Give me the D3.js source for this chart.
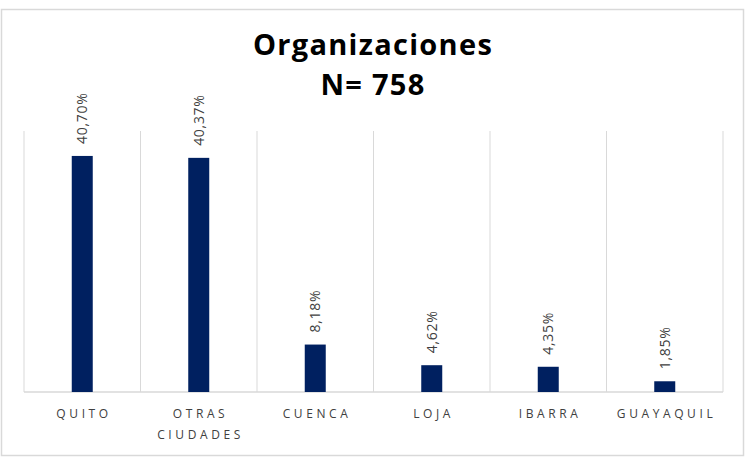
<!DOCTYPE html>
<html><head><meta charset="utf-8">
<script src="https://cdn.jsdelivr.net/npm/d3@7"></script>
<style>body{margin:0;background:#fff;}svg{display:block;font-family:"Open Sans",sans-serif;}</style>
</head><body>
<script>
const categories = [["QUITO"], ["OTRAS", "CIUDADES"], ["CUENCA"], ["LOJA"], ["IBARRA"], ["GUAYAQUIL"]];
const values = [40.70, 40.37, 8.18, 4.62, 4.35, 1.85];
const valueLabels = ["40,70%", "40,37%", "8,18%", "4,62%", "4,35%", "1,85%"];
const titleLines = ["Organizaciones", "N= 758"];

(function () {
const W = 755, H = 465;
const svg = d3.select("body").append("svg").attr("width", W).attr("height", H);
svg.append("rect").attr("x", 1.5).attr("y", 9.5).attr("width", 742).attr("height", 446)
  .attr("fill", "#fff").attr("stroke", "#d9d9d9").attr("stroke-width", 1.5);

const pLeft = 24, pRight = 723, pTop = 131, pBottom = 392;
const x = d3.scaleBand().domain(d3.range(values.length)).range([pLeft, pRight]).padding(0);
const y = d3.scaleLinear().domain([0, 45]).range([pBottom, pTop]);

const seps = d3.range(values.length + 1).map(i => pLeft + i * x.bandwidth());
svg.selectAll("line.sep").data(seps).enter().append("line")
  .attr("x1", d => d).attr("x2", d => d).attr("y1", pTop).attr("y2", pBottom)
  .attr("stroke", "#d9d9d9").attr("stroke-width", 1);
svg.append("line").attr("x1", pLeft).attr("x2", pRight).attr("y1", pBottom).attr("y2", pBottom)
  .attr("stroke", "#d9d9d9").attr("stroke-width", 1.5);

const bw = 21;
svg.selectAll("rect.bar").data(values).enter().append("rect")
  .attr("x", (d, i) => x(i) + x.bandwidth() / 2 - bw / 2)
  .attr("width", bw)
  .attr("y", d => y(d))
  .attr("height", d => pBottom - y(d))
  .attr("fill", "#002060");

svg.selectAll("text.val").data(values).enter().append("text")
  .attr("transform", (d, i) => `translate(${x(i) + x.bandwidth() / 2 + 5},${y(d) - 12}) rotate(-90)`)
  .attr("text-anchor", "start")
  .attr("font-size", 14).attr("letter-spacing", 0.7).attr("fill", "#404040")
  .text((d, i) => valueLabels[i]);

const cat = svg.selectAll("text.cat").data(categories).enter().append("text")
  .attr("text-anchor", "middle").attr("font-size", 12).attr("fill", "#404040")
  .attr("letter-spacing", 3.6);
cat.each(function(d, i) {
  const t = d3.select(this);
  d.forEach((line, j) => {
    t.append("tspan").attr("x", x(i) + x.bandwidth() / 2 + 1.8).attr("y", 418 + j * 21).text(line);
  });
});

svg.selectAll("text.title").data(titleLines).enter().append("text")
  .attr("x", 373).attr("y", (d, i) => 55 + i * 40)
  .attr("text-anchor", "middle").attr("font-size", 29).attr("font-weight", "bold")
  .attr("letter-spacing", 1.3)
  .attr("fill", "#000").text(d => d);
})();
</script>
</body></html>
